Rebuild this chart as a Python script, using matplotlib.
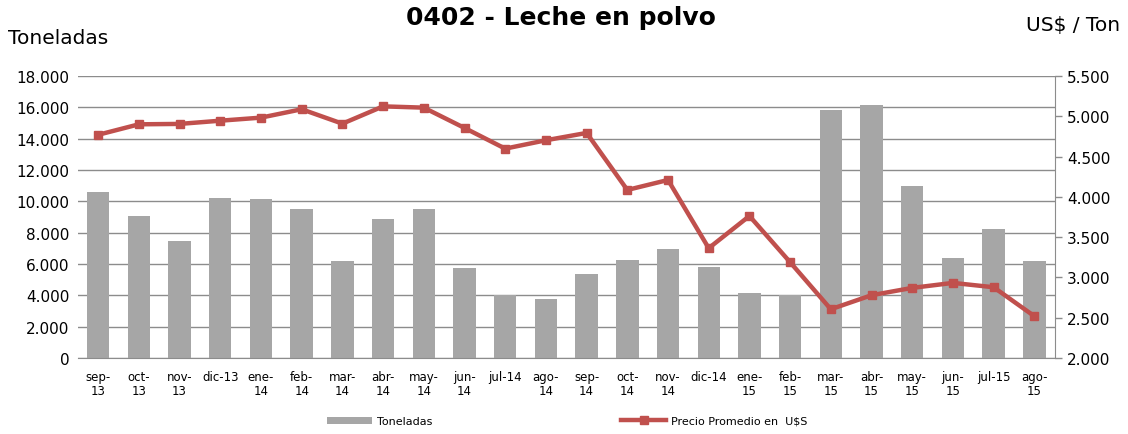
import matplotlib.pyplot as plt
from matplotlib.ticker import FuncFormatter, MultipleLocator

meses = ["sep-\n13", "oct-\n13", "nov-\n13", "dic-13", "ene-\n14", "feb-\n14", "mar-\n14", "abr-\n14",
         "may-\n14", "jun-\n14", "jul-14", "ago-\n14", "sep-\n14", "oct-\n14", "nov-\n14", "dic-14",
         "ene-\n15", "feb-\n15", "mar-\n15", "abr-\n15", "may-\n15", "jun-\n15", "jul-15", "ago-\n15"]

toneladas = [10600, 9070, 7470, 10210, 10150, 9510, 6180, 8850, 9510, 5760, 3990, 3770,
             5370, 6230, 6940, 5810, 4150, 4000, 15800, 16170, 10950, 6370, 8220, 6180]

precio = [4770, 4900, 4905, 4945, 4983, 5087, 4908, 5123, 5107, 4855, 4598, 4702,
          4793, 4085, 4209, 3362, 3762, 3188, 2604, 2778, 2869, 2931, 2877, 2518]


def miles(v, pos):
    return f"{v:,.0f}".replace(",", ".")


fig = plt.figure(figsize=(11.28, 4.35), dpi=100)
ax = fig.add_axes([0.069, 0.175, 0.866, 0.648])
ax2 = ax.twinx()

x = range(len(meses))
barras = ax.bar(x, toneladas, width=0.55, color="#A6A6A6", label="Toneladas", zorder=2)
linea, = ax2.plot(x, precio, color="#C0504D", lw=3.2, marker="s", ms=6, label="Precio Promedio en  U$S")

# eje izquierdo
ax.set_ylim(0, 18000)
ax.yaxis.set_major_locator(MultipleLocator(2000))
ax.yaxis.set_major_formatter(FuncFormatter(miles))
ax.grid(axis="y", color="#8C8C8C", lw=1)
ax.set_axisbelow(True)
ax.set_xlim(-0.5, len(meses) - 0.5)
ax.set_xticks(list(x))
ax.set_xticklabels(meses, fontsize=8.5, linespacing=1.05)
ax.tick_params(axis="x", length=0, pad=9)
ax.tick_params(axis="y", length=0, labelsize=11, pad=6)

# eje derecho
ax2.set_ylim(2000, 5500)
ax2.yaxis.set_major_locator(MultipleLocator(500))
ax2.yaxis.set_major_formatter(FuncFormatter(miles))
ax2.tick_params(axis="y", labelsize=11, color="#8C8C8C", length=5, width=1, pad=4)

for a in (ax, ax2):
    for lado in ("top", "left"):
        a.spines[lado].set_visible(False)
    a.spines["right"].set_color("#8C8C8C")
    a.spines["bottom"].set_color("#8C8C8C")
ax.spines["right"].set_visible(False)
ax2.spines["bottom"].set_visible(False)

fig.text(0.497, 0.958, "0402 - Leche en polvo", ha="center", va="center", fontsize=18, fontweight="bold")
fig.text(0.007, 0.912, "Toneladas", ha="left", va="center", fontsize=14.5)
fig.text(0.993, 0.942, "US$ / Ton", ha="right", va="center", fontsize=14.5)

fig.legend([barras, linea], ["Toneladas", "Precio Promedio en  U$S"], loc="center",
           bbox_to_anchor=(0.503, 0.03), ncol=2, frameon=False, fontsize=8,
           columnspacing=17, handlelength=4.0, handleheight=0.6, handletextpad=0.5)

fig.savefig("out.png", dpi=100)
